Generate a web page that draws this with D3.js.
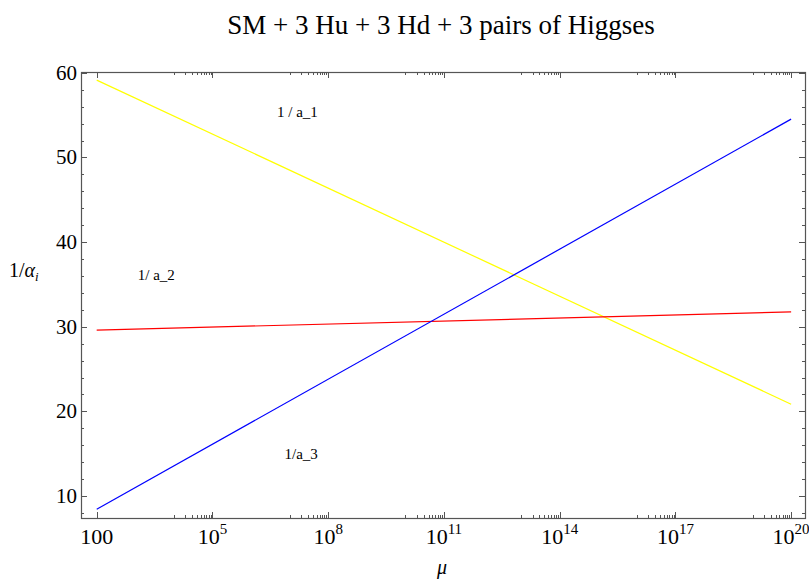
<!DOCTYPE html>
<html><head><meta charset="utf-8">
<script src="https://cdn.jsdelivr.net/npm/d3@7"></script>
<style>body{margin:0;background:#fff}svg{display:block}text{font-family:"Liberation Serif","Times New Roman",serif;fill:#000}</style>
</head><body>
<svg id="c" width="809" height="583"></svg>
<script>
const title = "SM + 3 Hu + 3 Hd + 3 pairs of Higgses";
const mu = [1e2, 1e20];
const invAlpha1 = [59.14, 20.85];
const invAlpha2 = [29.6, 31.75];
const invAlpha3 = [8.43, 54.53];
const seriesColors = ["#ffff00", "#ff0000", "#0000ff"];
const xMajorExp = [2, 5, 8, 11, 14, 17, 20];
const yMajor = [10, 20, 30, 40, 50, 60];
const curveLabels = [
  {text: "1 / a_1", mu: 1.6e7, v: 55.4},
  {text: "1/ a_2", mu: 3.5e3, v: 36.1},
  {text: "1/a_3", mu: 2e7, v: 15.0}
];

const svg = d3.select("#c");
const L = 81, R = 805, T = 72, B = 518;
const x = d3.scaleLog().domain([Math.pow(10, 1.593), Math.pow(10, 20.36)]).range([L, R]);
const y = d3.scaleLinear().domain([7.4, 60.1]).range([B, T]);
const frameColor = "#555";

// ticks
const xMajor = xMajorExp.map(e => Math.pow(10, e));
const xMinor = [];
xMajorExp.slice(1).forEach(e => { for (let m = 1; m <= 9; m++) xMinor.push(m * Math.pow(10, e - 1)); });
const yMinor = d3.range(8, 61, 2).filter(v => v % 10 !== 0);

const g = svg.append("g");
function tick(x1, y1, x2, y2) {
  g.append("line").attr("x1", x1).attr("y1", y1).attr("x2", x2).attr("y2", y2)
    .attr("stroke", frameColor).attr("stroke-width", 1);
}
xMajor.forEach(v => { const px = Math.round(x(v)) + 0.5; tick(px, B, px, B - 6); tick(px, T, px, T + 6); });
xMinor.forEach(v => { const px = Math.round(x(v)) + 0.5; tick(px, B, px, B - 3); tick(px, T, px, T + 3); });
yMajor.forEach(v => { const py = Math.round(y(v)) + 0.5; tick(L, py, L + 6, py); tick(R, py, R - 6, py); });
yMinor.forEach(v => { const py = Math.round(y(v)) + 0.5; tick(L, py, L + 3, py); tick(R, py, R - 3, py); });

// frame
svg.append("rect").attr("x", L + 0.5).attr("y", T + 0.5).attr("width", R - L).attr("height", B - T)
  .attr("fill", "none").attr("stroke", frameColor).attr("stroke-width", 1.2);

// tick labels
yMajor.forEach(v => {
  svg.append("text").attr("x", L - 4).attr("y", y(v) + 7).attr("text-anchor", "end")
    .attr("font-size", 21).text(v);
});
xMajorExp.forEach(e => {
  const t = svg.append("text").attr("x", x(Math.pow(10, e))).attr("y", B + 26)
    .attr("text-anchor", "middle").attr("font-size", 22);
  if (e === 2) t.text("100");
  else {
    t.append("tspan").text("10");
    t.append("tspan").attr("dy", -10).attr("font-size", 15).text(e);
  }
});

// lines
const line = d3.line().x((d, i) => x(mu[i])).y(d => y(d));
[invAlpha1, invAlpha2, invAlpha3].forEach((s, i) => {
  svg.append("path").datum(s).attr("d", line).attr("fill", "none")
    .attr("stroke", seriesColors[i]).attr("stroke-width", 1.2);
});

// curve labels
curveLabels.forEach(c => {
  svg.append("text").attr("x", x(c.mu)).attr("y", y(c.v) + 5).attr("text-anchor", "middle")
    .attr("font-size", 15).text(c.text);
});

// title
svg.append("text").attr("x", 441).attr("y", 34).attr("text-anchor", "middle")
  .attr("font-size", 27).text(title);

// axis labels
const yl = svg.append("text").attr("x", 9).attr("y", 277).attr("font-size", 20);
yl.append("tspan").text("1/");
yl.append("tspan").attr("font-style", "italic").text("α");
yl.append("tspan").attr("font-style", "italic").attr("font-size", 13).attr("dy", 4).text("i");
svg.append("text").attr("x", 442).attr("y", 574).attr("text-anchor", "middle")
  .attr("font-size", 20).attr("font-style", "italic").text("μ");
</script>
</body></html>
